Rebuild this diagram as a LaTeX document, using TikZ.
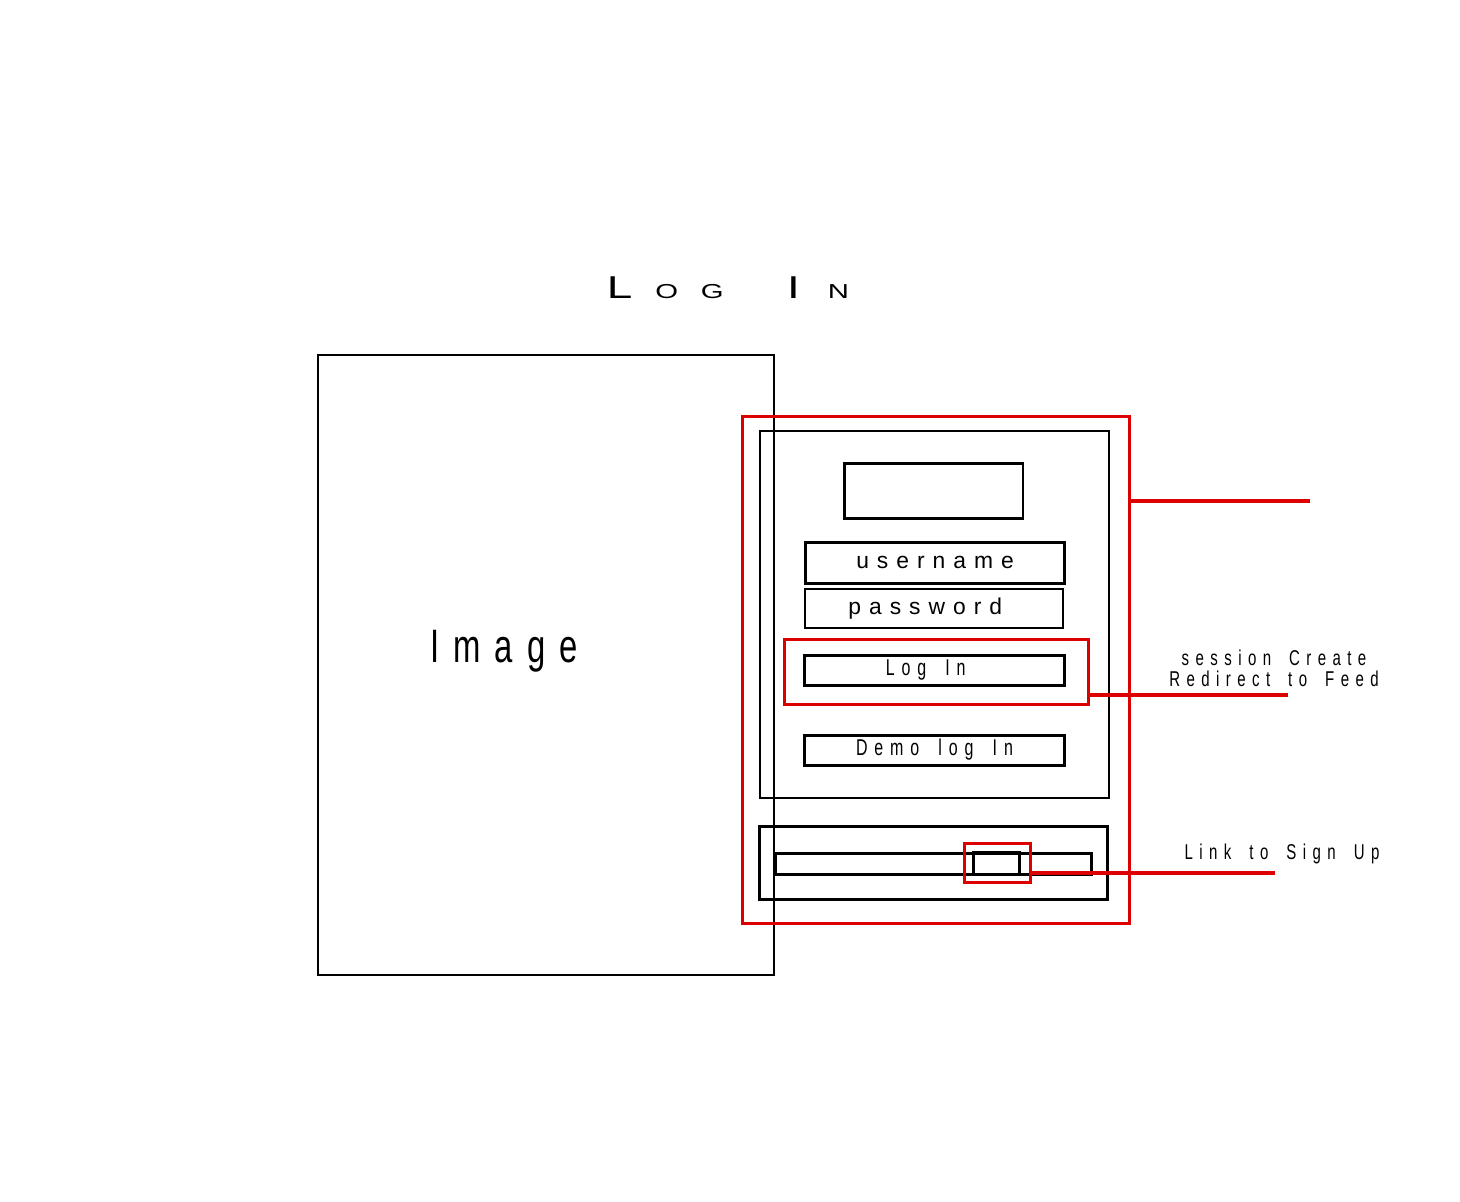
\documentclass[tikz,border=0pt]{standalone}
\usepackage{fontspec}
\setmainfont{Liberation Sans}
\newfontfamily\narrowfont[FakeStretch=0.7,LetterSpace=30,WordSpace=1.7]{Liberation Sans}
\newfontfamily\widefont[LetterSpace=35]{Liberation Sans}
\newfontfamily\titlefont[FakeStretch=1.45]{Liberation Sans}
\usetikzlibrary{calc}
\definecolor{mockred}{RGB}{220,0,0}

\tikzstyle{frame}=[draw,line width=1.1pt,inner sep=0pt]
\tikzstyle{field}=[draw,line width=1.7pt,inner sep=0pt]
\tikzstyle{hilite}=[draw=mockred,line width=1.7pt,inner sep=0pt]
\tikzstyle{callout}=[draw=mockred,line width=2.8pt]
\tikzstyle{note}=[inner sep=0pt,font=\narrowfont\fontsize{12.2}{9.6}\selectfont]

\begin{document}
\begin{tikzpicture}[x=0.02cm,y=-0.02cm]
    \useasboundingbox (0,0) rectangle (1460,1201);

    \node[inner sep=0pt,anchor=base] (title) at (728,298)
        {\titlefont\fontsize{18}{20}\selectfont L\hspace{13pt}{\fontsize{11.5}{12}\selectfont O\hspace{13pt}G}\hspace{36pt}I\hspace{16pt}{\fontsize{11.5}{12}\selectfont N}};

    % picture on the left
    \node[frame,minimum width=9.12cm,minimum height=12.4cm] (image) at (546,665) {};
    \node[inner sep=0pt,anchor=base,font=\narrowfont\fontsize{26.7}{30}\selectfont] (imagelabel) at (504,662) {Image};

    % form
    \node[hilite,minimum width=7.76cm,minimum height=10.16cm] (outer) at (936,670) {};
    \node[draw,line width=1.3pt,minimum width=6.98cm,minimum height=7.34cm] (panel) at (934.5,614.5) {};
    \node[field,minimum width=3.58cm,minimum height=1.1cm] (logo) at (933.5,490.5) {};
    \node[field,minimum width=5.2cm,minimum height=0.82cm,font=\widefont\fontsize{13}{15}\selectfont] (username) at (935,562.5) {username};
    \node[frame,line width=1.2pt,minimum width=5.16cm,minimum height=0.78cm,font=\widefont\fontsize{13}{15}\selectfont] (password) at (934,608.5) {\hspace*{-10pt}password};

    \node[hilite,minimum width=6.1cm,minimum height=1.3cm] (logingroup) at (936.5,671.5) {};
    \node[field,minimum width=5.22cm,minimum height=0.6cm,font=\narrowfont\fontsize{13}{15}\selectfont] (login) at (934.5,670) {\hspace*{-10pt}Log In};
    \node[field,minimum width=5.22cm,minimum height=0.6cm,font=\narrowfont\fontsize{13}{15}\selectfont] (demo) at (934.5,750) {Demo log In};

    % sign up strip
    \node[field,minimum width=6.98cm,minimum height=1.46cm] (footer) at (933.5,862.5) {};
    \node[field,minimum width=6.34cm,minimum height=0.42cm] (bar) at (933.5,863.5) {};
    \node[field,minimum width=0.92cm,minimum height=0.44cm] (signup) at (996,863) {};
    \node[hilite,minimum width=1.32cm,minimum height=0.78cm] (linkgroup) at (997,862.5) {};

    % callouts
    \coordinate (feedend) at (1310,501);
    \coordinate (redirectend) at (1288,695);
    \coordinate (signupend) at (1275,873);
    \draw[callout] (feedend -| outer.east) -- (feedend);
    \draw[callout] (redirectend -| logingroup.east) -- (redirectend);
    \draw[callout] (signupend -| linkgroup.east) -- (signupend);

    \node[note,anchor=base] (sessionnote) at (1274,665) {session Create};
    \node[note,anchor=base] (redirectnote) at (1274,686) {Redirect to Feed};
    \node[note,anchor=base] (signupnote) at (1282,859) {Link to Sign Up};
\end{tikzpicture}
\end{document}
